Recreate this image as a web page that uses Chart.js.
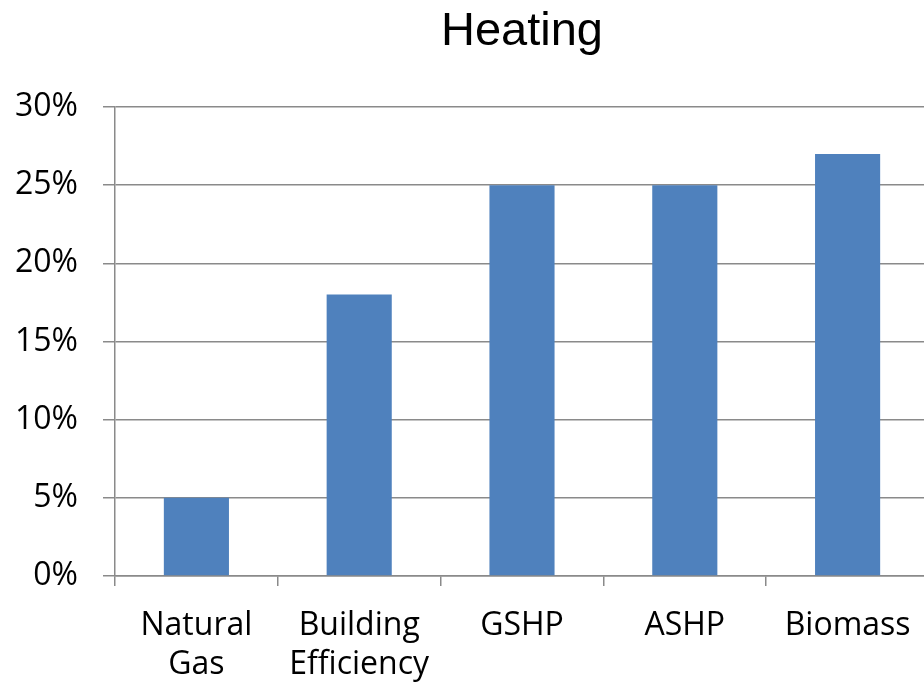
<!DOCTYPE html>
<html>
<head>
<meta charset="utf-8">
<title>Heating</title>
<script src="https://cdn.jsdelivr.net/npm/chart.js@4/dist/chart.umd.min.js"></script>
<style>
    html, body { margin: 0; padding: 0; overflow: hidden; background: #fff; }
    #chartBox { width: 940px; height: 685px; }
</style>
</head>
<body>
<div id="chartBox"><canvas id="heatingChart"></canvas></div>
<script>
// chart data
const categories = [['Natural', 'Gas'], ['Building', 'Efficiency'], 'GSHP', 'ASHP', 'Biomass'];
const heatingValues = [5, 18, 25, 25, 27];
const yTicks = [0, 5, 10, 15, 20, 25, 30];

const gridColor = '#8a8a8a';

document.addEventListener('DOMContentLoaded', renderHeatingChart);

function renderHeatingChart() {
    const ctx = document.getElementById('heatingChart').getContext('2d');

    new Chart(ctx, {
        type: 'bar',
        data: {
            labels: categories,
            datasets: [{
                label: 'Heating',
                data: heatingValues,
                backgroundColor: '#4F81BD',
                borderWidth: 0,
                barPercentage: 0.4,
                categoryPercentage: 1.0
            }]
        },
        options: {
            responsive: true,
            maintainAspectRatio: false,
            animation: false,
            layout: {
                padding: { left: 16, right: 11, top: 0, bottom: 0 }
            },
            plugins: {
                legend: { display: false },
                tooltip: { enabled: false },
                title: {
                    display: true,
                    text: 'Heating',
                    color: '#000',
                    fullSize: false,
                    font: { family: '"Liberation Sans", Arial, sans-serif', size: 47, weight: 'normal', lineHeight: 1.2 },
                    padding: { top: 4, bottom: 46.6 }
                }
            },
            scales: {
                x: {
                    // fixed axis height so the plot ends where the reference does
                    afterFit: axis => { axis.height = 109; },
                    grid: {
                        offset: true,
                        drawOnChartArea: false,
                        tickLength: 10,
                        color: gridColor,
                        lineWidth: 1.5
                    },
                    border: { display: true, color: gridColor, width: 1.5 },
                    ticks: {
                        color: '#000',
                        autoSkip: false,
                        maxRotation: 0,
                        padding: 20,
                        font: { family: '"Open Sans", sans-serif', size: 32, lineHeight: 1.22 }
                    }
                },
                y: {
                    min: 0,
                    max: 30,
                    afterBuildTicks: axis => {
                        axis.ticks = yTicks.map(v => ({ value: v }));
                    },
                    afterFit: axis => { axis.width = 99; },
                    grid: {
                        color: gridColor,
                        lineWidth: 1.5,
                        tickLength: 12
                    },
                    border: { display: true, color: gridColor, width: 1.5 },
                    ticks: {
                        color: '#000',
                        padding: 25,
                        callback: v => v + '%',
                        font: { family: '"Open Sans", sans-serif', size: 32 }
                    }
                }
            }
        }
    });
}
</script>
</body>
</html>
